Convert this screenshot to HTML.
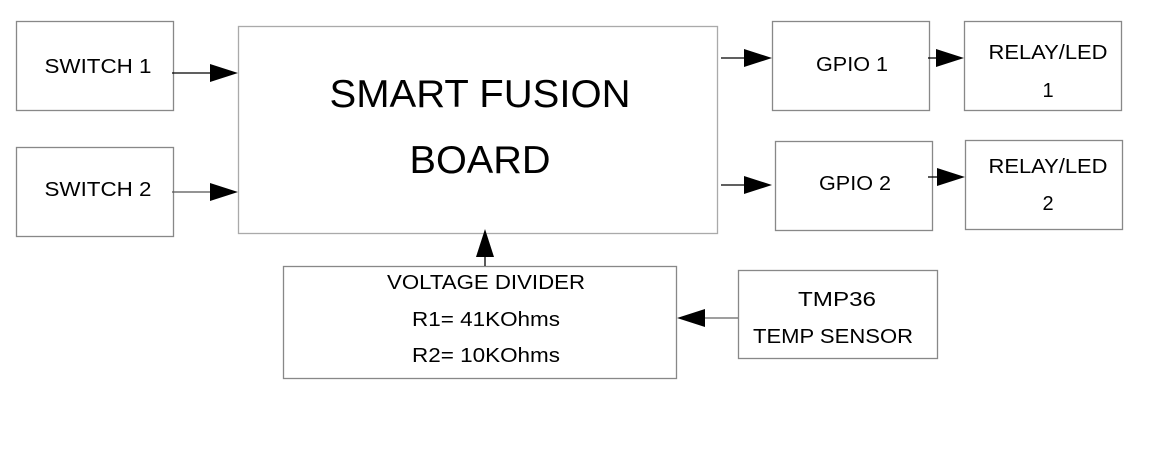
<!DOCTYPE html>
<html><head><meta charset="utf-8"><style>
body{margin:0;background:#fff;width:1171px;height:444px;overflow:hidden;}
svg text{font-family:"Liberation Sans",Arial,sans-serif;fill:#000;}
</style></head><body>
<svg width="1171" height="444" xmlns="http://www.w3.org/2000/svg">
<g fill="none" stroke="#888" stroke-width="1.3">
<rect x="16.5" y="21.5" width="157" height="89"/>
<rect x="16.5" y="147.5" width="157" height="89"/>
<rect x="238.5" y="26.5" width="479" height="207" stroke="#aaa"/>
<rect x="772.5" y="21.5" width="157" height="89"/>
<rect x="964.5" y="21.5" width="157" height="89"/>
<rect x="775.5" y="141.5" width="157" height="89"/>
<rect x="965.5" y="140.5" width="157" height="89"/>
<rect x="283.5" y="266.5" width="393" height="112"/>
<rect x="738.5" y="270.5" width="199" height="88"/>
</g>
<g stroke="#000" stroke-width="1.3">
<line x1="172" y1="73" x2="212" y2="73"/>
<line x1="172" y1="192" x2="212" y2="192" stroke="#555"/>
<line x1="721" y1="58" x2="746" y2="58"/>
<line x1="928" y1="58" x2="938" y2="58"/>
<line x1="721" y1="185" x2="746" y2="185"/>
<line x1="928" y1="177" x2="938" y2="177"/>
<line x1="485" y1="266" x2="485" y2="255"/>
<line x1="738" y1="318" x2="703" y2="318" stroke="#666"/>
</g>
<g fill="#000">
<polygon points="210,64 238,73 210,82"/>
<polygon points="210,183 238,192 210,201"/>
<polygon points="744,49 772,58 744,67"/>
<polygon points="936,49 964,58 936,67"/>
<polygon points="744,176 772,185 744,194"/>
<polygon points="937,168 965,177 937,186"/>
<polygon points="476,257 485,229 494,257"/>
<polygon points="705,309 677,318 705,327"/>
</g>
<g font-size="20" text-anchor="middle" lengthAdjust="spacingAndGlyphs">
<text x="98" y="73" textLength="107" lengthAdjust="spacingAndGlyphs">SWITCH 1</text>
<text x="98" y="196" textLength="107" lengthAdjust="spacingAndGlyphs">SWITCH 2</text>
<text x="852" y="71" textLength="72" lengthAdjust="spacingAndGlyphs">GPIO 1</text>
<text x="855" y="190" textLength="72" lengthAdjust="spacingAndGlyphs">GPIO 2</text>
<text x="1048" y="59" textLength="119" lengthAdjust="spacingAndGlyphs">RELAY/LED</text>
<text x="1048" y="97">1</text>
<text x="1048" y="173" textLength="119" lengthAdjust="spacingAndGlyphs">RELAY/LED</text>
<text x="1048" y="210">2</text>
<text x="486" y="289" textLength="198" lengthAdjust="spacingAndGlyphs">VOLTAGE DIVIDER</text>
<text x="486" y="326" textLength="148" lengthAdjust="spacingAndGlyphs">R1= 41KOhms</text>
<text x="486" y="362" textLength="148" lengthAdjust="spacingAndGlyphs">R2= 10KOhms</text>
<text x="837" y="306" textLength="78" lengthAdjust="spacingAndGlyphs">TMP36</text>
<text x="833" y="343" textLength="160" lengthAdjust="spacingAndGlyphs">TEMP SENSOR</text>
</g>
<g font-size="39" text-anchor="middle">
<text x="480" y="107" textLength="301" lengthAdjust="spacingAndGlyphs">SMART FUSION</text>
<text x="480" y="173" textLength="141" lengthAdjust="spacingAndGlyphs">BOARD</text>
</g>
</svg>
</body></html>
